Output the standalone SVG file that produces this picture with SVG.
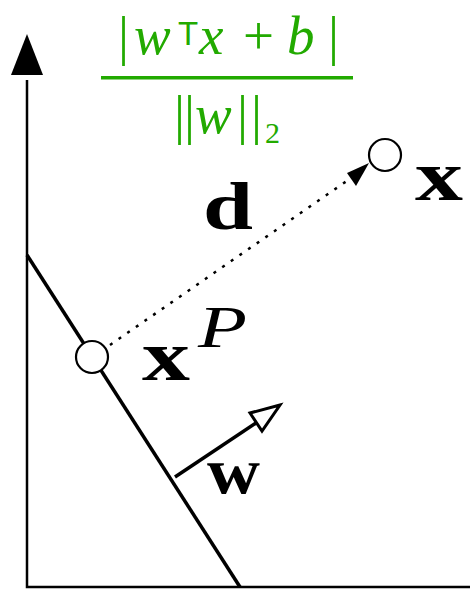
<svg xmlns="http://www.w3.org/2000/svg" width="470" height="604" viewBox="0 0 470 604">
<defs>
<style>
.ax{stroke:#000;stroke-width:2.5;fill:none}
.ln{stroke:#000;stroke-width:3.5;fill:none}
.pt{fill:#fff;stroke:#000;stroke-width:2.2}
.bf{font-family:"Liberation Serif","DejaVu Serif",serif;font-weight:bold;fill:#000}
.it{font-family:"Liberation Serif","DejaVu Serif",serif;font-style:italic;fill:#000}
.g{font-family:"Liberation Serif","DejaVu Serif",serif;fill:#22aa00}
.gs{font-family:"Liberation Sans","DejaVu Sans",sans-serif;fill:#22aa00}
</style>
</defs>
<g id="axes">
<path class="ax" d="M27,80 V587 H470"/>
<polygon points="27,34 11,75 43,75" fill="#000"/>
</g>
<g id="formula">
<text class="g" font-size="55" y="54"><tspan x="118">|</tspan><tspan x="134" font-style="italic">w</tspan><tspan x="199" font-style="italic">x</tspan><tspan x="243">+</tspan><tspan x="287" font-style="italic">b</tspan><tspan x="328">|</tspan></text>
<text class="gs" font-size="33" x="178" y="45">T</text>
<rect x="101" y="76" width="252" height="3.5" fill="#22aa00"/>
<text class="g" font-size="55" y="133"><tspan x="174" letter-spacing="-1">||</tspan><tspan x="195" font-style="italic" letter-spacing="0">w</tspan><tspan x="237" letter-spacing="3">||</tspan></text>
<text class="g" font-size="30" x="265" y="143">2</text>
</g>
<g id="connectors">
<line class="ln" x1="27" y1="255" x2="240" y2="587"/>
<line x1="110" y1="345" x2="354" y2="176" stroke="#000" stroke-width="2.5" stroke-dasharray="3,7.5"/>
<polygon points="369,163 347,173 356,186" fill="#000"/>
<line class="ln" x1="175" y1="477" x2="256" y2="423"/>
<polygon points="280,405 250,413 262,431" fill="#fff" stroke="#000" stroke-width="3" stroke-linejoin="miter"/>
</g>
<g id="xP">
<circle class="pt" cx="92" cy="357" r="16"/>
<text class="bf" font-size="72" x="142" y="380" textLength="48" lengthAdjust="spacingAndGlyphs">x</text>
<text class="it" font-size="60" x="198" y="347" textLength="49" lengthAdjust="spacingAndGlyphs">P</text>
</g>
<g id="x">
<circle class="pt" cx="385" cy="155" r="16"/>
<text class="bf" font-size="72" x="415" y="200" textLength="48" lengthAdjust="spacingAndGlyphs">x</text>
</g>
<g id="d">
<text class="bf" font-size="68" x="203" y="229" textLength="50" lengthAdjust="spacingAndGlyphs">d</text>
</g>
<g id="w">
<text class="bf" font-size="66" x="207" y="493" textLength="53" lengthAdjust="spacingAndGlyphs">w</text>
</g>
</svg>
